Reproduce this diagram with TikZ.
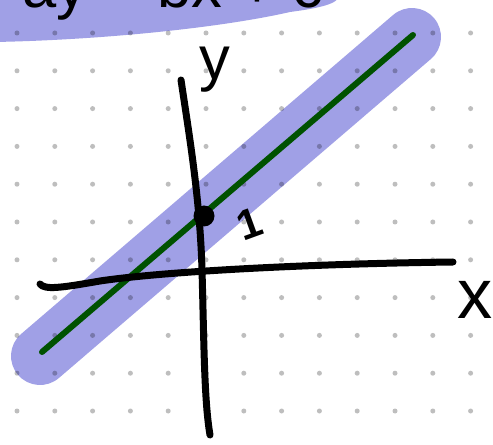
\documentclass[tikz,border=0pt]{standalone}
\usepackage{fontspec}
\setmainfont{Liberation Sans}
\usetikzlibrary{positioning}
\definecolor{hilite}{RGB}{160,160,230}
\definecolor{dotgray}{RGB}{190,190,190}
\definecolor{fitgreen}{RGB}{0,82,0}
\tikzset{
  griddot/.style={fill=dotgray, draw=none},
  marker/.style={draw=hilite, line width=1.16cm, line cap=round, blend mode=multiply},
  markerfill/.style={fill=hilite, draw=none, blend mode=multiply},
  fitline/.style={draw=fitgreen, line width=0.12cm, line cap=round},
  axisline/.style={draw=black, line width=0.14cm, line cap=round},
  inkdot/.style={circle, fill=black, inner sep=0pt, minimum size=0.42cm},
  handlabel/.style={inner sep=0pt, font=\fontsize{35}{40}\selectfont}
}
\begin{document}
\begin{tikzpicture}[x=0.02cm, y=-0.02cm]
  \useasboundingbox (0,0) rectangle (493,445);
  \fill[white] (0,0) rectangle (493,445);
  \begin{scope}
  \clip (0,0) rectangle (493,445);
  % dotted paper
  \foreach \i in {0,...,12}
    \foreach \j in {0,...,10}
      \fill[griddot] ({17+37.8*\i},{33+37.8*\j}) circle (0.05cm);
  % banner at the top
  \fill[markerfill] (-5,-5) -- (-5,42) .. controls (100,40) and (220,28) .. (290,12)
    .. controls (320,8) and (338,4) .. (340,-5) -- cycle;
  \node[handlabel, anchor=base west] (title) at (22,8) {ay = bx + c};
  % highlighted line
  \coordinate (lowend) at (42,352);
  \coordinate (highend) at (413,35);
  \path[marker] (40,356) -- (412,37);
  \path[fitline] (lowend) -- (highend);
  % axes
  \path[axisline] (181,80) .. controls (190,140) and (200,200) .. (202,270)
    .. controls (204,340) and (204,400) .. (210,435);
  \path[axisline] (40,284) .. controls (45,290) and (60,288) .. (100,281)
    .. controls (160,272) and (300,264) .. (453,262);
  % labels
  \node[inkdot] (yint) at (204,216) {};
  \node[handlabel, font=\bfseries\fontsize{24}{28}\selectfont, rotate=20] (onelabel) at (250,224) {1};
  \node[handlabel] (ylabel) at (215,70) {y};
  \node[handlabel, font=\fontsize{40}{44}\selectfont] (xlabel) at (475,300) {x};
  \end{scope}
\end{tikzpicture}
\end{document}
